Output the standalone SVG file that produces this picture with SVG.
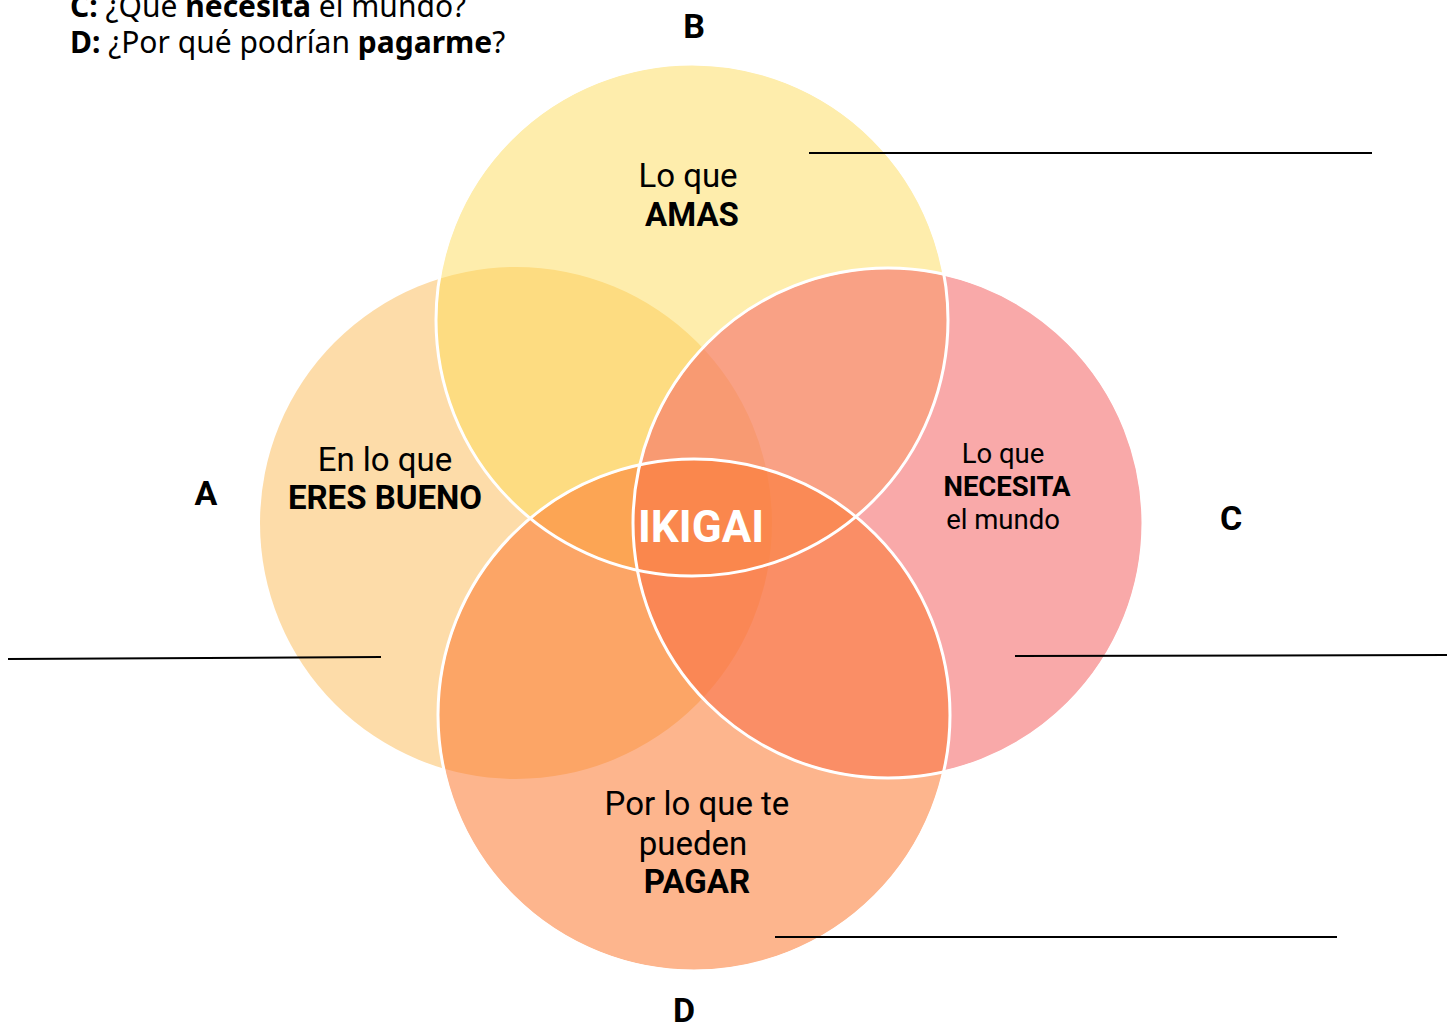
<svg xmlns="http://www.w3.org/2000/svg" width="1453" height="1023" viewBox="0 0 1453 1023">
<style>
text{font-family:Roboto,"Liberation Sans",sans-serif;fill:#000;}
.h{font-family:"Noto Sans","Liberation Sans",sans-serif;font-size:30px;}
.t{font-size:33px;text-anchor:middle;}
.s{font-size:27.5px;}
.b{font-weight:bold;}
.ik{font-size:44px;font-weight:bold;fill:#fff;}
.lbl{font-size:34px;font-weight:bold;text-anchor:middle;}
.ring{fill:none;stroke:#fff;stroke-width:3;}
.ln{stroke:#000;stroke-width:2;}
</style>
<rect width="1453" height="1023" fill="#fff"/>
<g id="header">
<text class="h" x="70" y="17"><tspan class="b">C:</tspan> ¿Qué <tspan class="b">necesita</tspan> el mundo?</text>
<text class="h" x="70" y="53"><tspan class="b">D:</tspan> ¿Por qué podrían <tspan class="b">pagarme</tspan>?</text>
</g>
<g id="circles">
<circle id="circleA" cx="516" cy="523" r="256" fill="#FDDCA9"/>
<circle id="circleB" cx="692" cy="320" r="255" fill="#FDDB59" fill-opacity="0.5"/>
<circle id="circleC" cx="888" cy="523" r="254" fill="#F46868" fill-opacity="0.57"/>
<circle id="circleD" cx="694" cy="715" r="255" fill="#FB7830" fill-opacity="0.55"/>
<circle class="ring" cx="692" cy="320" r="256"/>
<circle class="ring" cx="888" cy="523" r="255"/>
<circle class="ring" cx="694" cy="715" r="256"/>
</g>
<g id="connectors">
<line class="ln" x1="809" y1="153" x2="1372" y2="153"/>
<line class="ln" x1="8" y1="659" x2="381" y2="657"/>
<line class="ln" x1="1015" y1="656" x2="1447" y2="655"/>
<line class="ln" x1="775" y1="937" x2="1337" y2="937"/>
</g>
<g id="nodeA">
<text class="t" x="385" y="471">En lo que</text>
<text class="t b" x="385" y="509">ERES BUENO</text>
<text class="lbl" x="206" y="505">A</text>
</g>
<g id="nodeB">
<text class="t" x="688" y="187">Lo que</text>
<text class="t b" x="692" y="226">AMAS</text>
<text class="lbl" x="694" y="38">B</text>
</g>
<g id="nodeC">
<text class="t s" x="1003" y="463">Lo que</text>
<text class="t s b" x="1007" y="496">NECESITA</text>
<text class="t s" x="1003" y="529">el mundo</text>
<text class="lbl" x="1231" y="530">C</text>
</g>
<g id="nodeD">
<text class="t" x="697" y="815">Por lo que te</text>
<text class="t" x="693" y="855">pueden</text>
<text class="t b" x="697" y="893">PAGAR</text>
<text class="lbl" x="684" y="1022">D</text>
</g>
<g id="center">
<text class="t ik" x="701" y="542">IKIGAI</text>
</g>
</svg>
